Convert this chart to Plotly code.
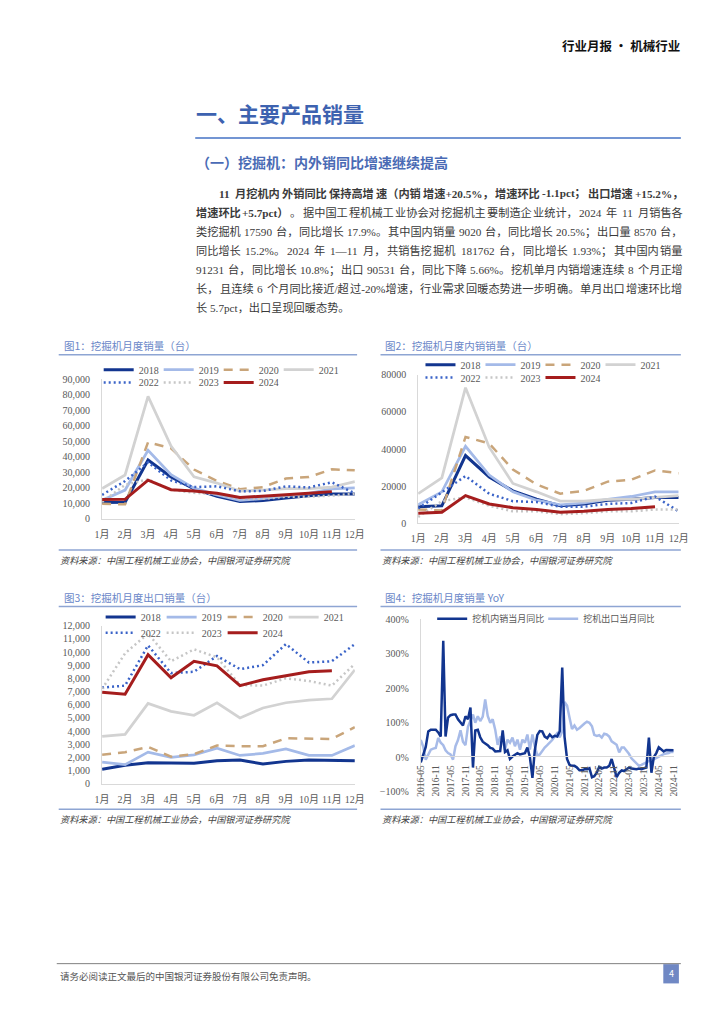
import plotly.graph_objects as go
import pandas as pd

W, H = 724, 1024


def px(x):
    return x / W


def py(y):
    return 1 - y / H


# ---------------- data ----------------
months = ["1月", "2月", "3月", "4月", "5月", "6月", "7月", "8月", "9月", "10月", "11月", "12月"]
years = ["2018", "2019", "2020", "2021", "2022", "2023", "2024"]

# 图1 挖掘机月度销量（台）
total_2018 = [10500, 10800, 38000, 27000, 19300, 14500, 11300, 11800, 13500, 15000, 16000, 16000]
total_2019 = [12000, 18600, 44200, 28500, 19800, 15500, 12000, 13000, 15000, 16500, 19300, 20000]
total_2020 = [9800, 9400, 49400, 45500, 31800, 24500, 19200, 20500, 26000, 27000, 32000, 31300]
total_2021 = [19600, 28300, 79000, 47000, 27200, 23100, 18000, 18500, 19600, 19500, 20500, 24000]
total_2022 = [15500, 24400, 36500, 24800, 20500, 21000, 17800, 18000, 21000, 20300, 23600, 16500]
total_2023 = [11000, 22000, 25500, 18800, 16800, 16000, 12800, 13000, 14300, 14300, 15000, 16200]
total_2024 = [12500, 12600, 25000, 18800, 18000, 16500, 13800, 14500, 15600, 16500, 17590]

# 图2 挖掘机月度内销销量（台）
dom_2018 = [9000, 9500, 36500, 25000, 17500, 13000, 9500, 10500, 12500, 13000, 14000, 14000]
dom_2019 = [10000, 17000, 41500, 26000, 17000, 12500, 10000, 11000, 13000, 14500, 17000, 17000]
dom_2020 = [7500, 7000, 46500, 43000, 29000, 21000, 16000, 17500, 22500, 23500, 28500, 27000]
dom_2021 = [16000, 24500, 73000, 41000, 21500, 17000, 12000, 12000, 13000, 13000, 14000, 15000]
dom_2022 = [8000, 17000, 25500, 16000, 12000, 11500, 9000, 9000, 10500, 11000, 14500, 6500]
dom_2023 = [3500, 12000, 14000, 9500, 6500, 6500, 5000, 5500, 6500, 6500, 7500, 7500]
dom_2024 = [5500, 6000, 15000, 10500, 8500, 7500, 6000, 6500, 7500, 8000, 9020]

# 图3 挖掘机月度出口销量（台）
exp_2018 = [1100, 1400, 1600, 1550, 1550, 1750, 1800, 1500, 1700, 1800, 1750, 1750]
exp_2019 = [1650, 1450, 2400, 2000, 2200, 2700, 2150, 2300, 2650, 2150, 2150, 2900]
exp_2020 = [2200, 2400, 2800, 2050, 2250, 2900, 2850, 2850, 3450, 3400, 3400, 4300]
exp_2021 = [3600, 3750, 6100, 5500, 5200, 6150, 5000, 5750, 6150, 6350, 6450, 8650]
exp_2022 = [7300, 7450, 10500, 8400, 8500, 9700, 8700, 9000, 10600, 9200, 9300, 10600]
exp_2023 = [7200, 9900, 11400, 9300, 10200, 9600, 7500, 7450, 8000, 7800, 7450, 9100]
exp_2024 = [6950, 6800, 9800, 8050, 9300, 8950, 7450, 7900, 8200, 8500, 8570]

# 图4 挖掘机月度销量 YoY（%），2016-05 ~ 2024-11
yoy_months = pd.date_range("2016-05-01", "2024-11-01", freq="MS")
yoy_domestic = (
    [-15, 5, 30, 75, 80, 80, 80, 72]
    + [60, 338, 60, 115, 122, 124, 124, 110, 100, 92, 119, 110]
    + [144, -30, 78, 80, 58, 45, 40, 35, 27, 25, 17, 17]
    + [18, 78, 15, 20, -5, 2, 8, 12, 8, 10, 12, 28]
    + [0, -60, 20, 65, 76, 75, 60, 55, 66, 58, 62, 60]
    + [75, 260, 60, -5, -22, -25, -25, -30, -38, -38, -35, -35]
    + [-32, -58, -55, -45, -28, -33, -30, -30, -25, -5, -30, -58]
    + [-45, -38, -40, -35, -30, -33, -35, -35, -33, -35, -32, -30]
    + [57, -45, 0, 12, 29, 22, 17, 21, 21, 20, 20.5]
)
yoy_export = (
    [50, 30, -7, 10, 22, 25, 27, 56]
    + [42, 35, 20, 12, 8, -7, 32, 50, 78, 45, 35, 88]
    + [108, 124, 100, 119, 105, 118, 168, 120, 100, 110, 80, 36]
    + [60, 50, 22, 51, 42, 57, 32, 51, 22, 51, 42, 66]
    + [22, 66, 32, 5, 8, 20, 28, 35, 42, 50, 61, 70]
    + [58, 75, 160, 150, 115, 82, 92, 80, 85, 92, 98, 103]
    + [100, 90, 65, 62, 64, 57, 68, 66, 60, 46, 42, 36]
    + [14, 28, 28, 19, 10, -3, -10, -17, -25, -22, -18, -15]
    + [-12, -8, -6, -2, 3, 7, 9, 11, 12, 16, 15.2]
)
yoy_names = ["挖机内销当月同比", "挖机出口当月同比"]

# ---------------- styles ----------------
CJK = "Noto Sans CJK SC"
SERIF = "Liberation Serif, Noto Sans CJK SC"
TICK_COLOR = "#595959"
AXIS_LINE = "#d9d9d9"

STYLE = {
    "2018": dict(color="#12358f", dash="solid", width=3),
    "2019": dict(color="#a4bae8", dash="solid", width=2.75),
    "2020": dict(color="#c9a57a", dash="9px,7px", width=2.5),
    "2021": dict(color="#d2d2d2", dash="solid", width=2.75),
    "2022": dict(color="#3a63c8", dash="2px,3px", width=2.5),
    "2023": dict(color="#c6c6c6", dash="2px,3px", width=2.5),
    "2024": dict(color="#a51d1d", dash="solid", width=3),
}

fig = go.Figure()

charts = [
    ("x", "y", [total_2018, total_2019, total_2020, total_2021, total_2022, total_2023, total_2024], ("legend", "legend2")),
    ("x2", "y2", [dom_2018, dom_2019, dom_2020, dom_2021, dom_2022, dom_2023, dom_2024], ("legend3", "legend4")),
    ("x3", "y3", [exp_2018, exp_2019, exp_2020, exp_2021, exp_2022, exp_2023, exp_2024], ("legend5", "legend6")),
]
for xa, ya, series, (lg1, lg2) in charts:
    for i, (yr, vals) in enumerate(zip(years, series)):
        st = STYLE[yr]
        fig.add_trace(go.Scatter(
            x=months[:len(vals)], y=vals, name=yr, mode="lines",
            line=dict(color=st["color"], dash=st["dash"], width=st["width"]),
            xaxis=xa, yaxis=ya, legend=lg1 if i < 4 else lg2,
            hoverinfo="skip",
        ))

fig.add_trace(go.Scatter(
    x=yoy_months, y=yoy_export, name=yoy_names[1], mode="lines",
    line=dict(color="#a7bbe8", width=2.5), xaxis="x4", yaxis="y4",
    legend="legend7", legendrank=2, hoverinfo="skip",
))
fig.add_trace(go.Scatter(
    x=yoy_months, y=yoy_domestic, name=yoy_names[0], mode="lines",
    line=dict(color="#12358f", width=2.5), xaxis="x4", yaxis="y4",
    legend="legend7", legendrank=1, hoverinfo="skip",
))

tickfont = dict(family=SERIF, size=10, color=TICK_COLOR)


def cat_x(domain, anchor):
    return dict(domain=domain, anchor=anchor, type="category", showline=True,
                linecolor=AXIS_LINE, linewidth=1, showgrid=False, zeroline=False,
                ticks="", tickfont=dict(family=SERIF, size=10, color=TICK_COLOR),
                ticklabelstandoff=6, fixedrange=True)


def num_y(domain, anchor, rng, dtick, fmt):
    return dict(domain=domain, anchor=anchor, range=rng, dtick=dtick, tick0=0,
                tickformat=fmt, showline=True, linecolor=AXIS_LINE, linewidth=1,
                showgrid=False, zeroline=False, ticks="", tickfont=tickfont,
                ticklabelstandoff=9, fixedrange=True)


layout = dict(
    width=W, height=H, margin=dict(l=0, r=0, t=0, b=0),
    paper_bgcolor="white", plot_bgcolor="white", showlegend=True,
    xaxis=cat_x([px(96.5), px(355.7)], "y"),
    yaxis=num_y([py(519), py(377.7)], "x", [0, 90000], 10000, ","),
    xaxis2=cat_x([px(420.6), px(687.8)], "y2"),
    yaxis2=num_y([py(523.6), py(373)], "x2", [0, 80000], 20000, "d"),
    xaxis3=cat_x([px(96.5), px(355.7)], "y3"),
    yaxis3=num_y([py(787), py(627)], "x3", [0, 12000], 1000, ","),
    xaxis4=dict(domain=[px(423.3), px(682.7)], anchor="free", position=py(759.3),
                type="date", range=["2016-05-01", "2024-11-01"],
                tick0="2016-05-01", dtick="M6", tickformat="%Y-%m", tickangle=-90,
                showline=True, linecolor=AXIS_LINE, linewidth=1, showgrid=False,
                zeroline=False, ticks="", ticklabelstandoff=4,
                tickfont=dict(family=SERIF, size=9.5, color=TICK_COLOR), fixedrange=True),
    yaxis4=num_y([py(795), py(620.7)], "x4", [-100, 400], 100, "d"),
)
layout["yaxis4"]["ticksuffix"] = "%"


def leg(x, y, ew):
    return dict(orientation="h", x=px(x), y=py(y), xanchor="left", yanchor="middle",
                bgcolor="rgba(0,0,0,0)", entrywidth=ew, entrywidthmode="pixels",
                itemwidth=30, font=dict(family=SERIF, size=10, color=TICK_COLOR),
                tracegroupgap=0, itemclick=False, itemdoubleclick=False)


layout["legend"] = leg(93, 368, 15)
layout["legend2"] = leg(93, 381, 15)
layout["legend3"] = leg(423, 363, 15)
layout["legend4"] = leg(423, 376, 15)
layout["legend5"] = leg(95, 618.3, 16)
layout["legend6"] = leg(95, 634.3, 16)
layout["legend7"] = leg(435, 620, 66)
layout["legend7"]["font"] = dict(family=CJK, size=9, color=TICK_COLOR)

fig.update_layout(**layout)

# ---------------- text ----------------
ann = []


def text(x, y, s, size, color="#333333", family=CJK, xanchor="left", yanchor="middle"):
    ann.append(dict(x=px(x), y=py(y), xref="paper", yref="paper", text=s, showarrow=False,
                    xanchor=xanchor, yanchor=yanchor, align="left", borderpad=0,
                    font=dict(family=family, size=size, color=color)))


text(690, 40, "<b>行业月报 · 机械行业</b>", 12.5, "#111111", xanchor="right")
text(192, 108, "<b>一、主要产品销量</b>", 21, "#3d62b0")
text(192, 158, "<b>（一）挖掘机：内外销同比增速继续提高</b>", 14, "#4a6bb5")

# paragraph, justified between its left edge and x = 690
REG_W = {" ": 0.25, ".": 0.25, "%": 0.833, "+": 0.564, "-": 0.333, "p": 0.5,
         "c": 0.444, "t": 0.278, "/": 0.278}
BOLD_W = {" ": 0.25, ".": 0.25, "%": 1.0, "+": 0.57, "-": 0.333, "p": 0.556,
          "c": 0.444, "t": 0.333, "/": 0.278}
BREAK_AFTER = "，。；：、）"
PARA_SIZE = 11.2
PARA_RIGHT = 690


def char_w(c, bold):
    if c.isdigit():
        return 0.5
    table = BOLD_W if bold else REG_W
    return table.get(c, 1.0)


def is_cjk(c):
    return ord(c) >= 0x2E80


def tokens_of(runs):
    toks = []  # (text, bold, space_before)
    cur, space_before = "", False
    for s, bold in runs:
        for c in s:
            if c == " ":
                if cur:
                    toks.append((cur, bold, space_before))
                    cur = ""
                space_before = True
                continue
            cur += c
            if c in BREAK_AFTER or (is_cjk(c) and len(cur) >= 4):
                toks.append((cur, bold, space_before))
                cur, space_before = "", False
        if cur:
            toks.append((cur, bold, space_before))
            cur, space_before = "", False
    return toks


para = [
    (215, [("11 月挖机内外销同比保持高增速（内销增速+20.5%，增速环比-1.1pct；出口增速+15.2%，", True)]),
    (192, [("增速环比+5.7pct）", True), ("。据中国工程机械工业协会对挖掘机主要制造企业统计，2024 年 11 月销售各", False)]),
    (192, [("类挖掘机 17590 台，同比增长 17.9%。其中国内销量 9020 台，同比增长 20.5%；出口量 8570 台，", False)]),
    (192, [("同比增长 15.2%。2024 年 1—11 月，共销售挖掘机 181762 台，同比增长 1.93%；其中国内销量", False)]),
    (192, [("91231 台，同比增长 10.8%；出口 90531 台，同比下降 5.66%。挖机单月内销增速连续 8 个月正增", False)]),
    (192, [("长，且连续 6 个月同比接近/超过-20%增速，行业需求回暖态势进一步明确。单月出口增速环比增", False)]),
    (192, [("长 5.7pct，出口呈现回暖态势。", False)]),
]
PARA_COLOR = "#3a3a3a"
for li, (x0, runs) in enumerate(para):
    y = 190 + li * 19.25
    if li == len(para) - 1:
        text(x0, y, "".join(r[0] for r in runs), PARA_SIZE, PARA_COLOR, family=SERIF)
        continue
    toks = tokens_of(runs)
    widths = [sum(char_w(c, b) for c in t) * PARA_SIZE for t, b, _ in toks]
    base_gaps = [(0.25 * PARA_SIZE if sb else 0.0) for _, _, sb in toks[1:]]
    natural = sum(widths) + sum(base_gaps)
    extra = max(0.0, (PARA_RIGHT - x0 - natural) / max(1, len(toks) - 1))
    xpos = x0
    for k, (t, b, sb) in enumerate(toks):
        if k > 0:
            xpos += base_gaps[k - 1] + extra
        s = f"<b>{t}</b>" if b else t
        text(xpos, y, s, PARA_SIZE, PARA_COLOR, family=SERIF)
        xpos += widths[k]

TITLE_COLOR = "#6a87c8"
text(56, 344, "图1：挖掘机月度销量（台）", 10.5, TITLE_COLOR)
text(386, 344, "图2：挖掘机月度内销销量（台）", 10.5, TITLE_COLOR)
text(56, 599, "图3：挖掘机月度出口销量（台）", 10.5, TITLE_COLOR)
text(386, 599, "图4：挖掘机月度销量 YoY", 10.5, TITLE_COLOR)

SRC = "<i>资料来源：中国工程机械工业协会，中国银河证券研究院</i>"
text(52, 560.5, SRC, 9.2, "#444444")
text(382, 560.5, SRC, 9.2, "#444444")
text(52, 822.5, SRC, 9.2, "#444444")
text(382, 822.5, SRC, 9.2, "#444444")

text(52, 981, "请务必阅读正文最后的中国银河证券股份有限公司免责声明。", 9.5, "#555555")
text(680, 979, "4", 9, "white", xanchor="center")

fig.update_layout(annotations=ann)

# ---------------- rules ----------------
shapes = []


def hline(x0, x1, y, color, width):
    shapes.append(dict(type="line", xref="paper", yref="paper", x0=px(x0), x1=px(x1),
                       y0=py(y), y1=py(y), line=dict(color=color, width=width)))


hline(192, 690, 133.5, "#4472c4", 1.5)
RULE = "#8ea5d3"
for yy in (353, 550.5):
    hline(52, 358, yy, RULE, 1.5)
    hline(382, 690, yy, RULE, 1.5)
for yy in (607.5, 812.7):
    hline(52, 358, yy, RULE, 1.5)
    hline(382, 690, yy, RULE, 1.5)
hline(50, 690, 969, "#808080", 1)
shapes.append(dict(type="rect", xref="paper", yref="paper", x0=px(672), x1=px(688),
                   y0=py(989), y1=py(969.5), fillcolor="#7088c4", line=dict(width=0),
                   layer="below"))
fig.update_layout(shapes=shapes)

fig.write_html(
    "out.html",
    config={"displayModeBar": False},
    post_script="document.body.style.margin='0px';document.body.style.overflow='hidden';",
)
